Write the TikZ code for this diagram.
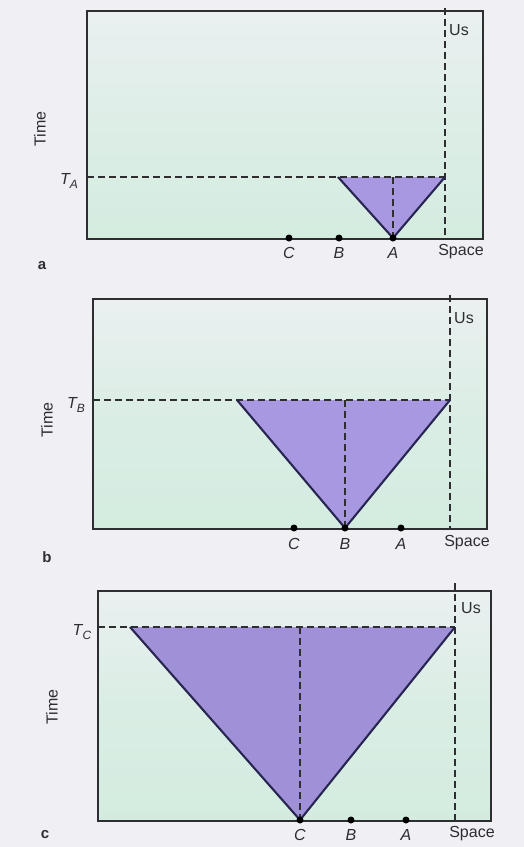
\documentclass[tikz,border=0pt]{standalone}
\usepackage{fontspec}
\setmainfont{Liberation Sans}
\newcommand\tsub[1]{\textit{T}\kern-0.8pt\raisebox{-0.55ex}{\fontsize{12}{12}\selectfont\textit{#1}}}
\definecolor{pagebg}{RGB}{240,239,243}
\definecolor{mintlow}{RGB}{212,236,224}
\definecolor{minttop}{RGB}{234,240,240}
\definecolor{conefill}{RGB}{168,152,226}
\definecolor{coneedge}{RGB}{40,38,80}
\definecolor{inkc}{RGB}{45,45,50}
\tikzset{
  boxframe/.style={draw=inkc, line width=1.7pt},
  guide/.style={draw=inkc, dash pattern=on 7pt off 4pt, line width=1.5pt},
  coneside/.style={draw=coneedge, line width=2.1pt},
  evdot/.style={circle, fill=black, inner sep=0pt, minimum size=7pt},
  lbl/.style={font=\fontsize{16}{16}\selectfont, inner sep=0pt, text=inkc},
  ilbl/.style={font=\fontsize{16}{16}\selectfont\itshape, inner sep=0pt, text=inkc},
  plbl/.style={font=\fontsize{15}{15}\selectfont\bfseries, inner sep=0pt, text=inkc}
}
\begin{document}
\begin{tikzpicture}[x=1pt,y=-1pt]
\fill[pagebg] (0,0) rectangle (524,847);
\useasboundingbox (0,0) rectangle (524,847);

% ---------- panel a ----------
\shade[top color=minttop, bottom color=mintlow, middle color=mintlow!60!minttop] (87,11) rectangle (483,239);
\coordinate (aL) at (338,177);
\coordinate (aR) at (445,177);
\coordinate (aA) at (393,238);
\fill[conefill] (aL) -- (aR) -- (aA) -- cycle;
\coordinate (aT0) at (87,177);
\coordinate (aU0) at (445,8);
\coordinate (aU1) at (445,239);
\coordinate (aV) at (393,177);
\draw[guide] (aT0) -- (aR);
\draw[guide] (aU0) -- (aU1);
\draw[guide] (aV) -- (aA);
\draw[coneside] (aL) -- (aA) -- (aR);
\draw[boxframe] (87,11) rectangle (483,239);
\node[evdot] (aC) at (289,238) {};
\node[evdot] (aB) at (339,238) {};
\node[evdot] (aAd) at (393,238) {};
\node[ilbl] at (289,253) {C};
\node[ilbl] at (339,253) {B};
\node[ilbl] at (393,253) {A};
\node[lbl] at (461,252) {Space};
\node[lbl] at (459,30) {Us};
\node[lbl] at (69,181) {\tsub{A}};
\node[lbl, rotate=90] at (40,129) {Time};
\node[plbl] at (42,266) {a};

% ---------- panel b ----------
\shade[top color=minttop, bottom color=mintlow, middle color=mintlow!70!minttop] (93,299) rectangle (487,529);
\coordinate (bL) at (237,400);
\coordinate (bR) at (450,400);
\coordinate (bA) at (345,528);
\fill[conefill] (bL) -- (bR) -- (bA) -- cycle;
\coordinate (bT0) at (93,400);
\coordinate (bU0) at (450,295);
\coordinate (bU1) at (450,529);
\coordinate (bV) at (345,400);
\draw[guide] (bT0) -- (bR);
\draw[guide] (bU0) -- (bU1);
\draw[guide] (bV) -- (bA);
\draw[coneside] (bL) -- (bA) -- (bR);
\draw[boxframe] (93,299) rectangle (487,529);
\node[evdot] (bC) at (294,528) {};
\node[evdot] (bB) at (345,528) {};
\node[evdot] (bAd) at (401,528) {};
\node[ilbl] at (294,544) {C};
\node[ilbl] at (345,544) {B};
\node[ilbl] at (401,544) {A};
\node[lbl] at (467,543) {Space};
\node[lbl] at (464,318) {Us};
\node[lbl] at (76,405) {\tsub{B}};
\node[lbl, rotate=90] at (47,420) {Time};
\node[plbl] at (47,557) {b};

% ---------- panel c ----------
\shade[top color=minttop, bottom color=mintlow, middle color=mintlow!75!minttop] (98,591) rectangle (491,821);
\coordinate (cL) at (130,627);
\coordinate (cR) at (455,627);
\coordinate (cA) at (300,820);
\fill[conefill!95!black] (cL) -- (cR) -- (cA) -- cycle;
\coordinate (cT0) at (98,627);
\coordinate (cU0) at (455,583);
\coordinate (cU1) at (455,821);
\coordinate (cV) at (300,627);
\draw[guide] (cT0) -- (cR);
\draw[guide] (cU0) -- (cU1);
\draw[guide] (cV) -- (cA);
\draw[coneside] (cL) -- (cA) -- (cR);
\draw[boxframe] (98,591) rectangle (491,821);
\node[evdot] (cC) at (300,820) {};
\node[evdot] (cB) at (351,820) {};
\node[evdot] (cAd) at (406,820) {};
\node[ilbl] at (300,835) {C};
\node[ilbl] at (351,835) {B};
\node[ilbl] at (406,835) {A};
\node[lbl] at (472,834) {Space};
\node[lbl] at (471,608) {Us};
\node[lbl] at (82,632) {\tsub{C}};
\node[lbl, rotate=90] at (52,707) {Time};
\node[plbl] at (45,835) {c};
\end{tikzpicture}
\end{document}
